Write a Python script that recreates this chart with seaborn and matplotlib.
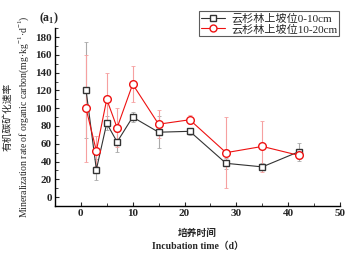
import matplotlib
matplotlib.use("Agg")
import matplotlib.pyplot as plt
import seaborn as sns
import pandas as pd
import numpy as np
from matplotlib.ticker import MultipleLocator
from matplotlib.lines import Line2D

days = [1, 3, 5, 7, 10, 15, 21, 28, 35, 42]
rate_0_10 = [121, 31, 83, 62, 90, 73, 74, 38, 34, 51]
err_0_10 = [54, 12, 8, 11, 6, 18, 4, 6, 4, 10]
rate_10_20 = [100, 52, 110, 78, 127, 82, 87, 50, 57, 47]
err_10_20 = [60, 17, 30, 22, 20, 16, 5, 40, 29, 4]
labels = ["云杉林上坡位0-10cm", "云杉林上坡位10-20cm"]

sns.set_theme(style="ticks")
plt.rcParams['font.family'] = ['Liberation Serif', 'Noto Sans CJK SC']
plt.rcParams['mathtext.fontset'] = 'custom'
plt.rcParams['mathtext.rm'] = 'Liberation Serif'
plt.rcParams['mathtext.bf'] = 'Liberation Serif:bold'
plt.rcParams['xtick.direction'] = 'in'
plt.rcParams['ytick.direction'] = 'in'

df = pd.DataFrame({
    "day": days * 2,
    "rate": rate_0_10 + rate_10_20,
    "err": err_0_10 + err_10_20,
    "series": [labels[0]] * len(days) + [labels[1]] * len(days),
})

fig = plt.figure(figsize=(3.45, 2.54), dpi=100)
ax = fig.add_axes([0.159, 0.189, 0.827, 0.70])

colors = {labels[0]: "#333333", labels[1]: "#ee1111"}
ecolors = {labels[0]: "#aaaaaa", labels[1]: "#f6a0a0"}
markers = {labels[0]: "s", labels[1]: "o"}

for lab in labels:
    sub = df[df["series"] == lab]
    ax.errorbar(sub["day"], sub["rate"], yerr=sub["err"], fmt="none",
                ecolor=ecolors[lab], elinewidth=0.8, capsize=1.5, capthick=0.6, zorder=1)

for lab in labels:
    sub = df[df["series"] == lab]
    sns.lineplot(data=sub, x="day", y="rate", color=colors[lab], marker=markers[lab],
                 ax=ax, linewidth=0.8, markersize=5 if lab == labels[0] else 5.5,
                 markerfacecolor="white", markeredgecolor=colors[lab],
                 markeredgewidth=1.0, legend=False, zorder=3)

ax.set_xlim(-5, 50)
ax.xaxis.set_major_locator(MultipleLocator(10))
ax.xaxis.set_minor_locator(MultipleLocator(5))
ax.yaxis.set_major_locator(MultipleLocator(20))
ax.yaxis.set_minor_locator(MultipleLocator(10))
ax.set_yticks(np.arange(0, 181, 20))
ax.set_ylim(-10, 190)
ax.tick_params(which="major", length=3, width=0.8, labelsize=8, pad=2)
ax.tick_params(which="minor", length=2, width=0.6)
for t in ax.get_xticklabels() + ax.get_yticklabels():
    t.set_fontweight("bold")
sns.despine(ax=ax)
for s in ["left", "bottom"]:
    ax.spines[s].set_linewidth(1.0)
    ax.spines[s].set_color("black")

ax.set_xlabel("培养时间\nIncubation time（d）", fontsize=7, fontweight="bold",
              linespacing=1.5, labelpad=8)
ax.set_ylabel("有机碳矿化速率\nMineralization rate of organic carbon(mg·kg$^{-1}$·d$^{-1}$)",
              fontsize=7, linespacing=1.4, labelpad=3)
ax.text(-0.02, 1.01, r"(a$_\mathbf{1}$)", transform=ax.transAxes, fontsize=8.5,
        fontweight="bold", ha="center", va="bottom")

handles = [Line2D([], [], color=colors[l], marker=markers[l], markerfacecolor="white",
                  markeredgecolor=colors[l], markersize=5, linewidth=0.8) for l in labels]
leg = fig.legend(handles, labels, loc="upper right", bbox_to_anchor=(0.982, 0.955),
                 fontsize=8, frameon=True, fancybox=False, edgecolor="#333333",
                 handlelength=2.2, borderpad=0.15, labelspacing=0.05, handletextpad=0.5,
                 borderaxespad=0)
leg.get_frame().set_linewidth(0.8)

fig.savefig("out.png", dpi=100)
